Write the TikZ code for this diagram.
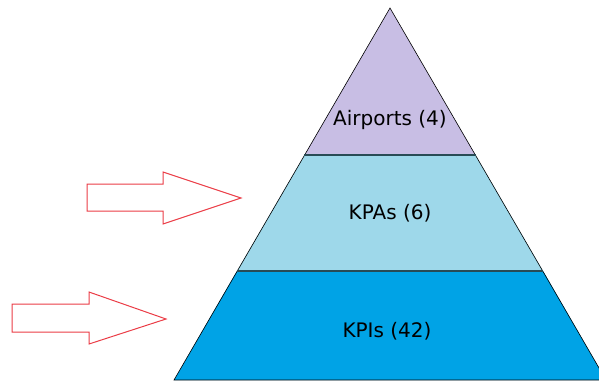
\documentclass[tikz,border=0pt]{standalone}
\usepackage{fontspec}
\setmainfont{DejaVu Sans}
\usetikzlibrary{positioning}
\definecolor{lavender}{RGB}{200,190,228}
\definecolor{lightblue}{RGB}{158,216,234}
\definecolor{deepblue}{RGB}{0,163,230}
\definecolor{sepline}{RGB}{40,75,85}
\definecolor{arrowred}{RGB}{235,60,70}
\def\LevelA{Airports (4)}
\def\LevelB{KPAs (6)}
\def\LevelC{KPIs (42)}

\begin{document}
\begin{tikzpicture}[x=1pt,y=-1pt,% pixel-like units, y grows downwards
			every node/.style={
				align=center,
				font=\fontsize{20}{22}\selectfont
			},
			level/.style={draw=black,line width=0.6pt},
			sep/.style={draw=sepline,line width=1.4pt},
			bigarrow/.style={draw=arrowred,fill=white,line width=1pt,line join=miter}
		]
		\useasboundingbox (0,0) rectangle (599,381);
		\clip (0,0) rectangle (599,381);
		% corners of the pyramid
		\coordinate (apex) at (390,8);
		\coordinate (L1) at (304.4,155); \coordinate (R1) at (475.6,155);
		\coordinate (L2) at (236.9,271); \coordinate (R2) at (543.1,271);
		\coordinate (L3) at (174,380);   \coordinate (R3) at (606,380);
		% levels
		\fill[lavender] (apex) -- (R1) -- (L1) -- cycle;
		\fill[lightblue] (L1) -- (R1) -- (R2) -- (L2) -- cycle;
		\fill[deepblue] (L2) -- (R2) -- (R3) -- (L3) -- cycle;
		\draw[level] (apex) -- (R3) -- (L3) -- cycle;
		\draw[sep] (L1) -- (R1);
		\draw[sep] (L2) -- (R2);
		% labels
		\node (top) at (390,120) {\LevelA};
		\node (mid) at (390,213) {\LevelB};
		\node (bot) at (387,331) {\LevelC};
		% arrows pointing at the pyramid
		\draw[bigarrow] (87,184) -- (163,184) -- (163,172) -- (241,198)
			-- (163,224) -- (163,211) -- (87,211) -- cycle;
		\draw[bigarrow] (12,304) -- (89,304) -- (89,292) -- (166,319)
			-- (89,344) -- (89,332) -- (12,332) -- cycle;
	\end{tikzpicture}
\end{document}
